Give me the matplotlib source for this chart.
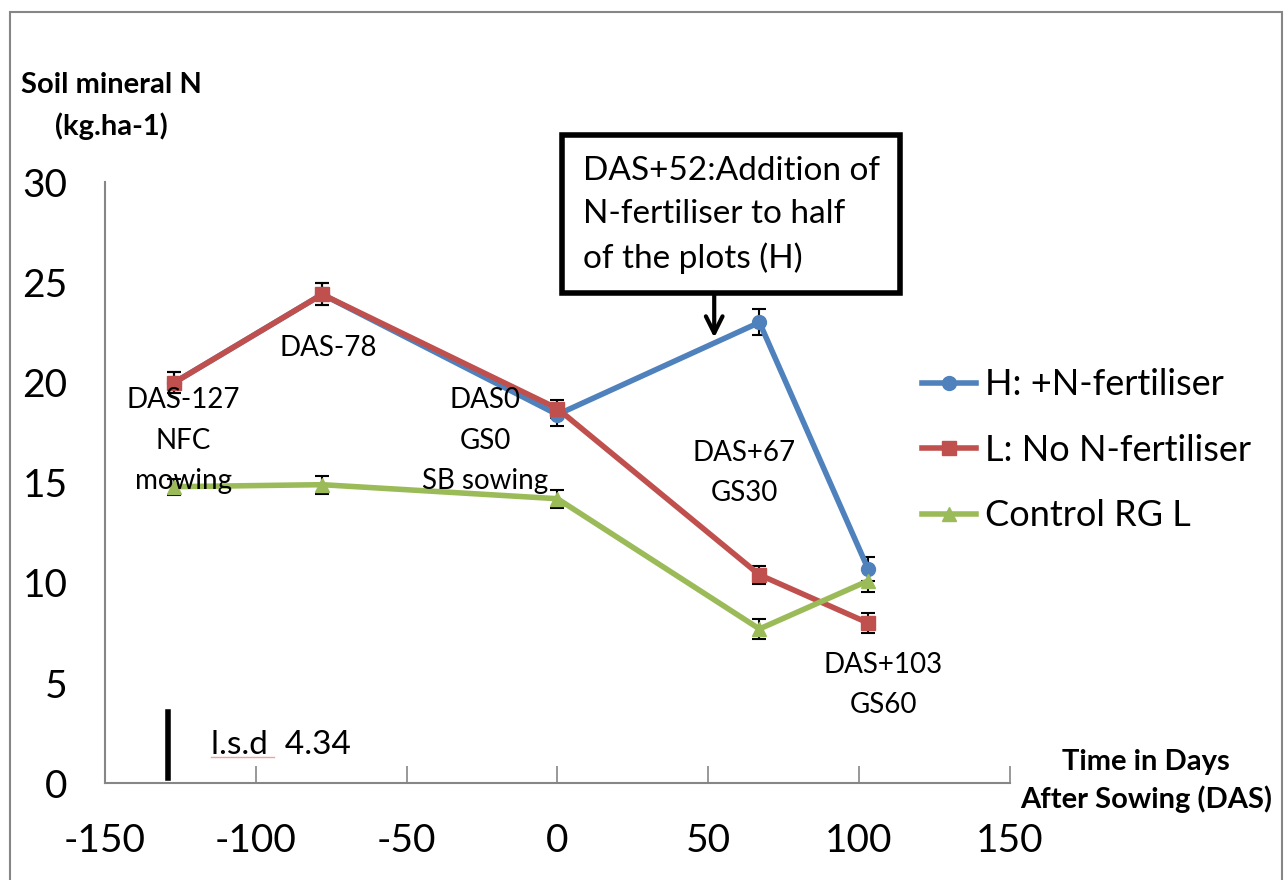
import numpy as np
import matplotlib.pyplot as plt
from matplotlib.patches import Rectangle
from matplotlib.lines import Line2D

plt.rcParams['font.family'] = ['Lato', 'DejaVu Sans']
plt.rcParams['axes.unicode_minus'] = False

# days after sowing
das = [-127, -78, 0, 67, 103]

h_fert = [20.0, 24.4, 18.4, 23.0, 10.7]
h_err = [0.5, 0.55, 0.55, 0.65, 0.6]
l_nofert = [20.0, 24.4, 18.7, 10.4, 8.0]
l_err = [0.5, 0.55, 0.45, 0.45, 0.5]
control = [14.8, 14.9, 14.2, 7.7, 10.1]
c_err = [0.4, 0.45, 0.45, 0.5, 0.55]

series = [
    ("H: +N-fertiliser", h_fert, h_err, "#4F81BD", "o"),
    ("L: No N-fertiliser", l_nofert, l_err, "#C0504D", "s"),
    ("Control RG L", control, c_err, "#9BBB59", "^"),
]

# stage labels: (x, y of block centre, text)
stage_labels = [
    (-124, 17.1, "DAS-127\nNFC\nmowing"),
    (-76, 21.7, "DAS-78"),
    (-24, 17.1, "DAS0\nGS0\nSB sowing"),
    (62, 15.5, "DAS+67\nGS30"),
    (108, 4.9, "DAS+103\nGS60"),
]

lsd_x = -129
lsd_bottom, lsd_top = 0.25, 3.55

fig = plt.figure(figsize=(12.88, 8.8), dpi=100)
ax = fig.add_axes([0.0815, 0.110, 0.7025, 0.683])

handles = []
for name, vals, err, col, mk in series:
    ax.errorbar(das, vals, yerr=err, color=col, lw=4, marker=mk, ms=10,
                ecolor="black", elinewidth=1.5, capsize=5, capthick=1.5,
                zorder=3)
    handles.append(Line2D([], [], color=col, lw=4, marker=mk, ms=10, label=name))

for x, y, txt in stage_labels:
    ax.text(x, y, txt, ha="center", va="center", fontsize=20, linespacing=1.68, zorder=5)

ax.plot([lsd_x, lsd_x], [lsd_bottom, lsd_top], color="black", lw=4)
ax.text(-115, 1.9, "l.s.d  4.34", fontsize=24, va="center")
ax.plot([-115, -94], [1.3, 1.3], color="#F4A0A0", lw=1)

ax.set_xlim(-150, 150)
ax.set_ylim(0, 30)
ax.set_xticks(np.arange(-150, 151, 50))
ax.set_yticks(np.arange(0, 31, 5))
ax.tick_params(axis="x", direction="in", length=12, width=1.2, color="#868686",
               labelsize=28, pad=29)
ax.tick_params(axis="y", length=0, labelsize=28, pad=27)
for s in ["top", "right"]:
    ax.spines[s].set_visible(False)
for s in ["left", "bottom"]:
    ax.spines[s].set_color("#868686")
    ax.spines[s].set_linewidth(1.5)

# annotation box with arrow
fig.text(583 / 1288, 1 - 215 / 880, "DAS+52:Addition of\nN-fertiliser to half\nof the plots (H)",
         fontsize=24, ha="left", va="center", linespacing=1.55)
fig.patches.append(Rectangle((562 / 1288, 1 - 293 / 880), 338 / 1288, 158 / 880,
                             transform=fig.transFigure, fill=False, lw=4,
                             edgecolor="black"))
ax.annotate("", xy=(52, 22.1), xytext=(52, 24.5),
            arrowprops=dict(arrowstyle="->", lw=3, color="black",
                            mutation_scale=30))

ax.legend(handles=handles, loc="center left", bbox_to_anchor=(0.903, 0.554),
          frameon=False, fontsize=26, handlelength=1.5, handletextpad=0.25,
          labelspacing=0.9, borderaxespad=0, borderpad=0)

fig.text(111 / 1288, 1 - 106 / 880, "Soil mineral N\n(kg.ha-1)", fontsize=21,
         fontweight="bold", ha="center", va="center", linespacing=1.6)
fig.text(1146 / 1288, 1 - 781 / 880, "Time in Days\nAfter Sowing (DAS)", fontsize=21,
         fontweight="bold", ha="center", va="center", linespacing=1.45)

fig.patches.append(Rectangle((10 / 1288, -0.05), 1272 / 1288, 1.05 - 12 / 880,
                             transform=fig.transFigure, fill=False, lw=1.5,
                             edgecolor="#868686"))

fig.savefig("out.png", dpi=100)
